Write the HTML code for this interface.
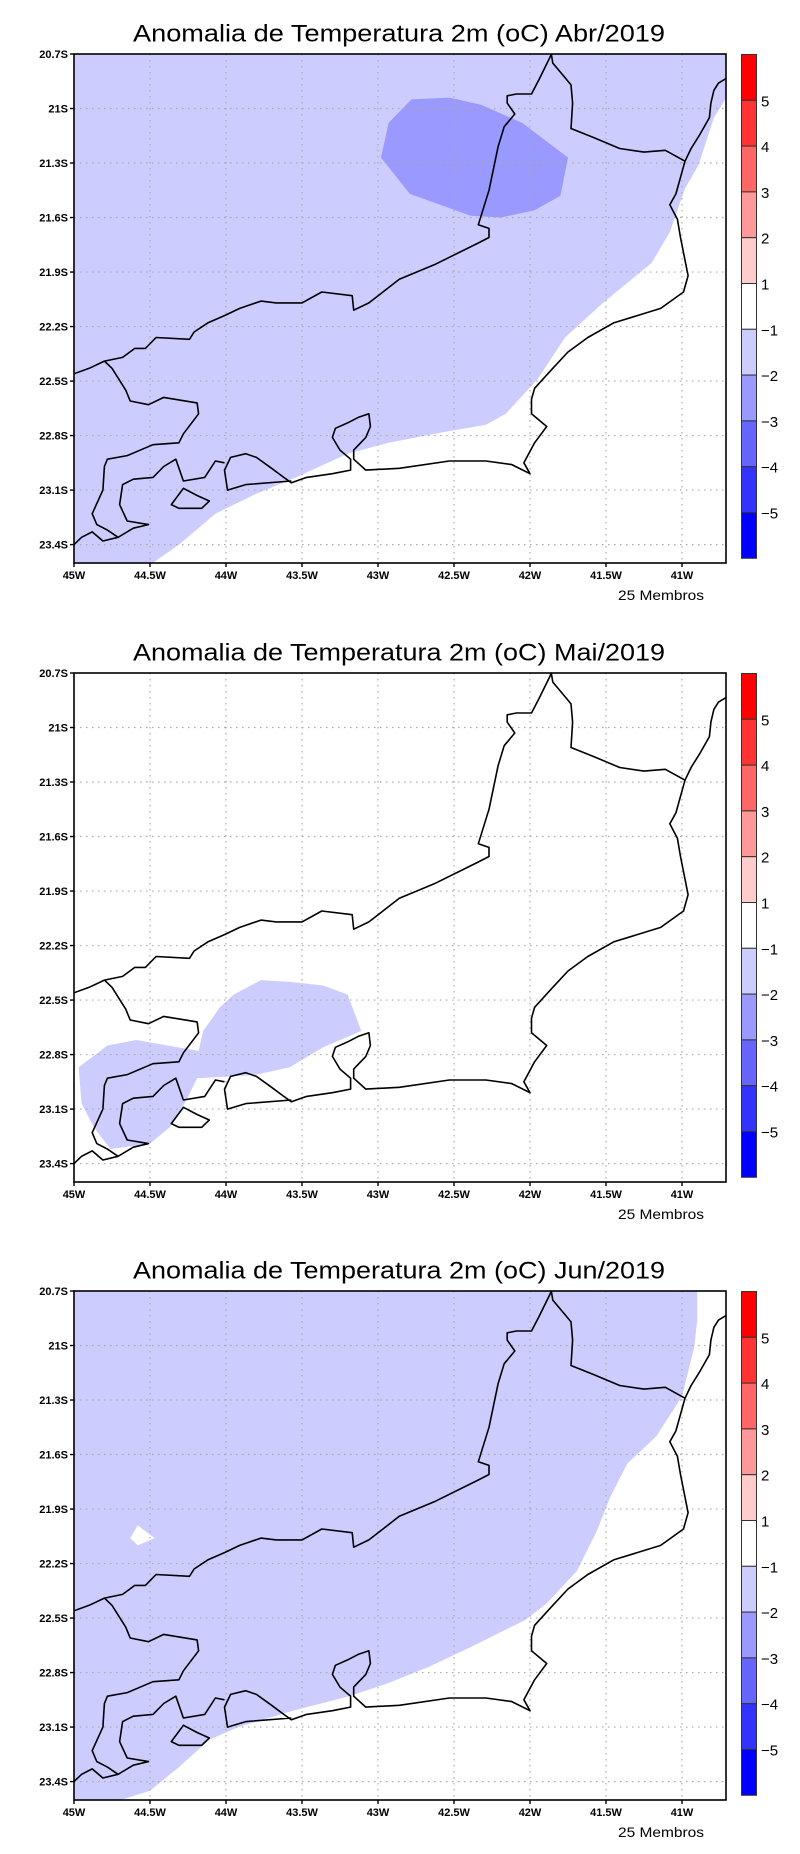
<!DOCTYPE html>
<html>
<head>
<meta charset="utf-8">
<style>
  html,body{margin:0;padding:0;background:#fff;}
  svg{display:block;}
  .ttl{font-family:"Liberation Sans",sans-serif;font-size:24px;fill:#000;}
  .tick{font-family:"Liberation Sans Narrow","Liberation Sans",sans-serif;font-size:11px;font-weight:bold;fill:#000;}
  .cbl{font-family:"Liberation Sans",sans-serif;font-size:15px;fill:#000;}
  .mem{font-family:"Liberation Sans",sans-serif;font-size:14px;fill:#000;}
</style>
</head>
<body>
<svg id="root" width="800" height="1854" viewBox="0 0 800 1854" xmlns="http://www.w3.org/2000/svg"></svg>
<script>
// ---------- data ----------
const panelMonths = ["Abr/2019", "Mai/2019", "Jun/2019"];
const lonTicks = [45, 44.5, 44, 43.5, 43, 42.5, 42, 41.5, 41];
const lonTickLabels = ["45W","44.5W","44W","43.5W","43W","42.5W","42W","41.5W","41W"];
const latTicks = [20.7, 21, 21.3, 21.6, 21.9, 22.2, 22.5, 22.8, 23.1, 23.4];
const latTickLabels = ["20.7S","21S","21.3S","21.6S","21.9S","22.2S","22.5S","22.8S","23.1S","23.4S"];
const cbarColors = ["#ff0000","#ff3333","#ff6666","#ff9999","#ffcccc","#ffffff","#ccccff","#9999ff","#6666ff","#3333ff","#0000ff"];
const cbarLabels = ["5","4","3","2","1","\u22121","\u22122","\u22123","\u22124","\u22125"];
const membersLabel = "25 Membros";

// geography [lonW, latS]
const stateBorder = [[45.00,22.46],[44.90,22.43],[44.80,22.39],[44.68,22.37],[44.60,22.32],[44.53,22.32],[44.46,22.26],[44.24,22.27],[44.21,22.23],[44.12,22.18],[44.01,22.14],[43.91,22.10],[43.77,22.06],[43.67,22.07],[43.50,22.07],[43.37,22.01],[43.17,22.03],[43.16,22.11],[43.06,22.07],[42.86,21.94],[42.63,21.86],[42.34,21.74],[42.27,21.71],[42.27,21.66],[42.34,21.64],[42.27,21.45],[42.21,21.21],[42.17,21.10],[42.10,21.03],[42.15,20.97],[42.15,20.93],[42.09,20.92],[41.99,20.92],[41.94,20.84],[41.87,20.72],[41.86,20.70],[41.85,20.75],[41.77,20.83],[41.73,20.87],[41.72,20.97],[41.73,21.11],[41.58,21.16],[41.41,21.22],[41.25,21.24],[41.11,21.23],[40.98,21.29]];
const coastEast = [[40.70,20.83],[40.76,20.86],[40.79,20.90],[40.81,20.97],[40.82,21.05],[40.88,21.14],[40.94,21.22],[40.98,21.29],[41.04,21.47],[41.08,21.53],[41.03,21.61],[41.01,21.71],[40.96,21.92],[40.99,22.01],[41.14,22.10],[41.45,22.18],[41.62,22.26],[41.75,22.34],[41.85,22.43],[41.97,22.54],[41.99,22.60],[41.99,22.68],[41.89,22.75],[41.97,22.84],[42.04,22.95],[42.00,23.01],[42.12,22.96],[42.29,22.94],[42.53,22.94],[42.86,22.98],[43.08,22.99],[43.16,22.93],[43.16,22.88],[43.08,22.81],[43.05,22.75],[43.06,22.68],[43.13,22.70],[43.20,22.73],[43.28,22.76],[43.30,22.81],[43.25,22.88],[43.18,22.93],[43.18,22.99],[43.30,23.01],[43.47,23.03],[43.57,23.06],[43.62,23.03],[43.70,22.98],[43.80,22.92],[43.87,22.90],[43.97,22.92],[44.01,22.99],[43.99,23.10],[43.87,23.07],[43.57,23.05]];
const coastWest = [[44.01,22.95],[44.07,22.94],[44.14,23.03],[44.28,23.05],[44.33,22.93],[44.41,22.97],[44.48,23.03],[44.61,23.04],[44.68,23.07],[44.70,23.18],[44.65,23.27],[44.51,23.29],[44.61,23.31],[44.71,23.36],[44.81,23.38],[44.88,23.33],[44.95,23.36],[45.00,23.40]];
const westBorder = [[44.80,22.39],[44.75,22.43],[44.66,22.55],[44.63,22.61],[44.51,22.63],[44.41,22.59],[44.19,22.62],[44.18,22.68],[44.28,22.79],[44.31,22.84],[44.48,22.85],[44.65,22.91],[44.78,22.93],[44.80,22.97],[44.81,23.10],[44.88,23.23],[44.85,23.29],[44.78,23.32],[44.71,23.36]];
const ilhaGrande = [[44.36,23.18],[44.28,23.09],[44.19,23.13],[44.11,23.16],[44.16,23.20],[44.31,23.20]];

// anomaly regions
const abrWhiteEdge = [[44.48,23.50],[44.31,23.40],[44.07,23.23],[43.80,23.12],[43.54,23.03],[43.20,22.90],[42.93,22.84],[42.56,22.78],[42.29,22.74],[42.16,22.68],[41.95,22.49],[41.77,22.26],[41.52,22.07],[41.20,21.85],[41.08,21.68],[40.98,21.44],[40.89,21.31],[40.79,21.05],[40.70,20.93]];
const abrCore = [[42.78,20.95],[42.53,20.94],[42.32,20.98],[42.05,21.08],[41.75,21.27],[41.80,21.48],[41.97,21.56],[42.19,21.60],[42.39,21.59],[42.79,21.47],[42.98,21.27],[42.93,21.08]];
const maiBlob = [[44.97,22.87],[44.95,23.07],[44.87,23.20],[44.76,23.32],[44.50,23.29],[44.37,23.20],[44.26,23.05],[44.19,22.93],[43.97,22.92],[43.80,22.91],[43.58,22.87],[43.36,22.76],[43.11,22.67],[43.20,22.47],[43.36,22.42],[43.58,22.40],[43.77,22.39],[43.95,22.47],[44.04,22.54],[44.15,22.67],[44.18,22.78],[44.32,22.76],[44.59,22.72],[44.78,22.75]];
const junWhiteEdge = [[44.69,23.50],[44.50,23.45],[44.31,23.32],[44.11,23.17],[43.92,23.10],[43.56,23.01],[43.19,22.93],[42.94,22.86],[42.67,22.77],[42.39,22.66],[42.03,22.51],[41.89,22.42],[41.69,22.24],[41.56,22.02],[41.47,21.83],[41.36,21.65],[41.17,21.50],[41.00,21.28],[40.92,21.01],[40.90,20.86],[40.90,20.70]];
const junHole = [[44.58,21.99],[44.47,22.06],[44.58,22.10],[44.63,22.06]];

// ---------- layout ----------
const NS = "http://www.w3.org/2000/svg";
const root = document.getElementById("root");
const panelTops = [54, 673, 1291];
const PL = 74, PW = 652, PH = 509;
const LON0 = 45, LAT0 = 20.7, KX = 152, KY = 181.7;

function mk(tag, attrs, parent) {
  const e = document.createElementNS(NS, tag);
  for (const k in attrs) e.setAttribute(k, attrs[k]);
  parent.appendChild(e);
  return e;
}
function px(lonW) { return PL + (LON0 - lonW) * KX; }
function pyF(top) { return latS => top + (latS - LAT0) * KY; }
function pathOf(pts, top, close) {
  const py = pyF(top);
  return pts.map((p, i) => (i ? "L" : "M") + px(p[0]).toFixed(1) + " " + py(p[1]).toFixed(1)).join(" ") + (close ? " Z" : "");
}

panelMonths.forEach((month, pi) => {
  const top = panelTops[pi];
  const py = pyF(top);
  const g = mk("g", {}, root);
  
  

  const t = mk("text", {x: 399, y: top - 12.5, "text-anchor": "middle", class: "ttl", textLength: 532, lengthAdjust: "spacingAndGlyphs"}, g);
  t.textContent = "Anomalia de Temperatura 2m (oC) " + month;
  
  

  const clipId = "clip" + pi;
  const cp = mk("clipPath", {id: clipId}, g);
  mk("rect", {x: PL, y: top, width: PW, height: PH}, cp);
  const fills = mk("g", {"clip-path": "url(#" + clipId + ")"}, g);
  
  
  mk("rect", {x: PL, y: top, width: PW, height: PH, fill: "#ffffff"}, fills);
  const BR = [[40.6, 23.6], [40.6, 20.6]];
  if (pi === 0) {
    mk("rect", {x: PL, y: top, width: PW, height: PH, fill: "#ccccff"}, fills);
    const w = mk("path", {d: pathOf(abrWhiteEdge.concat([[40.6,20.93],[40.6,23.6],[44.48,23.6]]), top, true), fill: "#ffffff"}, fills);
    
    
    const c = mk("path", {d: pathOf(abrCore, top, true), fill: "#9999ff"}, fills);
    
    
  } else if (pi === 1) {
    const b = mk("path", {d: pathOf(maiBlob, top, true), fill: "#ccccff"}, fills);
    
    
  } else {
    mk("rect", {x: PL, y: top, width: PW, height: PH, fill: "#ccccff"}, fills);
    const w = mk("path", {d: pathOf(junWhiteEdge.concat([[40.6,20.6],[40.6,23.6],[44.69,23.6]]), top, true), fill: "#ffffff"}, fills);
    
    
    const h = mk("path", {d: pathOf(junHole, top, true), fill: "#ffffff"}, fills);
    
    
  }

  // grid
  const grid = mk("g", {stroke: "#aaaaaa", "stroke-width": 1.2, "stroke-dasharray": "1.5 4.5"}, g);
  
  
  lonTicks.forEach(l => { if (l < 45) mk("line", {x1: px(l), y1: top, x2: px(l), y2: top + PH}, grid); });
  latTicks.forEach(l => { if (l > 20.7) mk("line", {x1: PL, y1: py(l), x2: PL + PW, y2: py(l)}, grid); });

  // map lines
  const lines = mk("g", {fill: "none", stroke: "#000", "stroke-width": 1.6, "stroke-linejoin": "round", "clip-path": "url(#" + clipId + ")"}, g);
  
  
  [stateBorder, coastEast, coastWest, westBorder].forEach(arr => mk("path", {d: pathOf(arr, top, false)}, lines));
  mk("path", {d: pathOf(ilhaGrande, top, true)}, lines);

  // frame
  const fr = mk("rect", {x: PL, y: top, width: PW, height: PH, fill: "none", stroke: "#000", "stroke-width": 1.6}, g);
  
  

  // x ticks
  lonTicks.forEach((l, i) => {
    mk("line", {x1: px(l), y1: top + PH, x2: px(l), y2: top + PH + 4, stroke: "#000", "stroke-width": 1.4}, g);
    const tx = mk("text", {x: px(l), y: top + PH + 16, "text-anchor": "middle", class: "tick"}, g);
    tx.textContent = lonTickLabels[i];
    
    
  });
  latTicks.forEach((l, i) => {
    mk("line", {x1: PL - 4, y1: py(l), x2: PL, y2: py(l), stroke: "#000", "stroke-width": 1.4}, g);
    const ty = mk("text", {x: PL - 6, y: py(l) + 4, "text-anchor": "end", class: "tick"}, g);
    ty.textContent = latTickLabels[i];
    
    
  });

  // colorbar
  const cb = mk("g", {}, g);
  
  
  const segH = 45.8;
  cbarColors.forEach((c, i) => {
    const r = mk("rect", {x: 741.5, y: top + 0.5 + i * segH, width: 15, height: segH, fill: c, stroke: "#333", "stroke-width": 1}, cb);
    
    
  });
  cbarLabels.forEach((lab, i) => {
    const tl = mk("text", {x: 761, y: top + 0.5 + (i + 1) * segH + 6, class: "cbl"}, cb);
    tl.textContent = lab;
    
    
  });

  const m = mk("text", {x: 618, y: top + 546, class: "mem", textLength: 86, lengthAdjust: "spacingAndGlyphs"}, g);
  m.textContent = membersLabel;
  
  
});
</script>
</body>
</html>
